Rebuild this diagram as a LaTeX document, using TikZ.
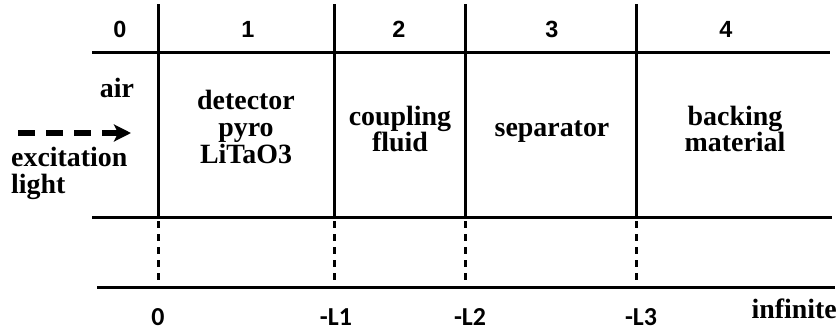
\documentclass[tikz,border=0pt]{standalone}
\usepackage{fontspec}
\setmainfont{Liberation Serif}
\newfontfamily\numfont{Liberation Sans}
\newfontfamily\axfont{Carlito}
\usetikzlibrary{arrows.meta}
\begin{document}
\begin{tikzpicture}[x=1bp,y=-1bp,
  line/.style={line width=3bp},
  dline/.style={line width=3bp, dash pattern=on 7bp off 6bp, dash phase=-4bp},
  num/.style={inner sep=0pt, font=\numfont\bfseries\fontsize{23.5}{26}\selectfont},
  ax/.style={inner sep=0pt, font=\axfont\bfseries\fontsize{26}{28}\selectfont},
  word/.style={inner sep=0pt, align=center, font=\bfseries\fontsize{28}{27}\selectfont},
  wordl/.style={inner sep=0pt, align=left, font=\bfseries\fontsize{28}{27}\selectfont},
  arr/.style={line width=5.5bp, dash pattern=on 17bp off 11bp, -{Stealth[length=17bp,width=17bp,inset=4bp]}}]
\useasboundingbox (0,0) rectangle (840,334);
% grid coordinates
\coordinate (tl) at (92,52);  \coordinate (tr) at (830,52);
\coordinate (ml) at (92,217); \coordinate (mr) at (832,217);
\coordinate (bl) at (97,287); \coordinate (br) at (835,287);
\foreach \n/\x in {0/158,1/334,2/465,3/636}{
  \coordinate (t\n) at (\x,4);
  \coordinate (m\n) at (\x,217);
  \coordinate (b\n) at (\x,287);
}
\draw[line] (tl) -- (tr);
\draw[line] (ml) -- (mr);
\draw[line] (bl) -- (br);
\foreach \n in {0,1,2,3}{
  \draw[line] (t\n) -- (m\n);
  \draw[dline] (m\n) -- (b\n);
}
% header numbers
\node[num, anchor=base] (h0) at (120,37) {0};
\node[num, anchor=base] (h1) at (248,37) {1};
\node[num, anchor=base] (h2) at (399,37) {2};
\node[num, anchor=base] (h3) at (552,37) {3};
\node[num, anchor=base] (h4) at (726,37) {4};
% layer labels
\node[word, anchor=base] (air) at (117,97) {air};
\node[word] (det) at (246,127) {detector\\pyro\\LiTaO3};
\node[word] (cpl) at (400,129) {coupling\\fluid};
\node[word] (sep) at (552,132) {separator};
\node[word] (bck) at (735,129) {backing\\material};
\node[wordl, anchor=west] (exc) at (11,173) {excitation\\light};
% excitation arrow
\coordinate (as) at (18,133);
\coordinate (ae) at (131,133);
\draw[arr] (as) -- (ae);
% axis labels
\node[ax, anchor=base] (x0) at (158,325) {0};
\node[ax, anchor=base] (x1) at (336,325) {-L1};
\node[ax, anchor=base] (x2) at (470,325) {-L2};
\node[ax, anchor=base] (x3) at (641,325) {-L3};
\node[word, anchor=base east] (inf) at (837,318) {infinite};
\end{tikzpicture}
\end{document}
